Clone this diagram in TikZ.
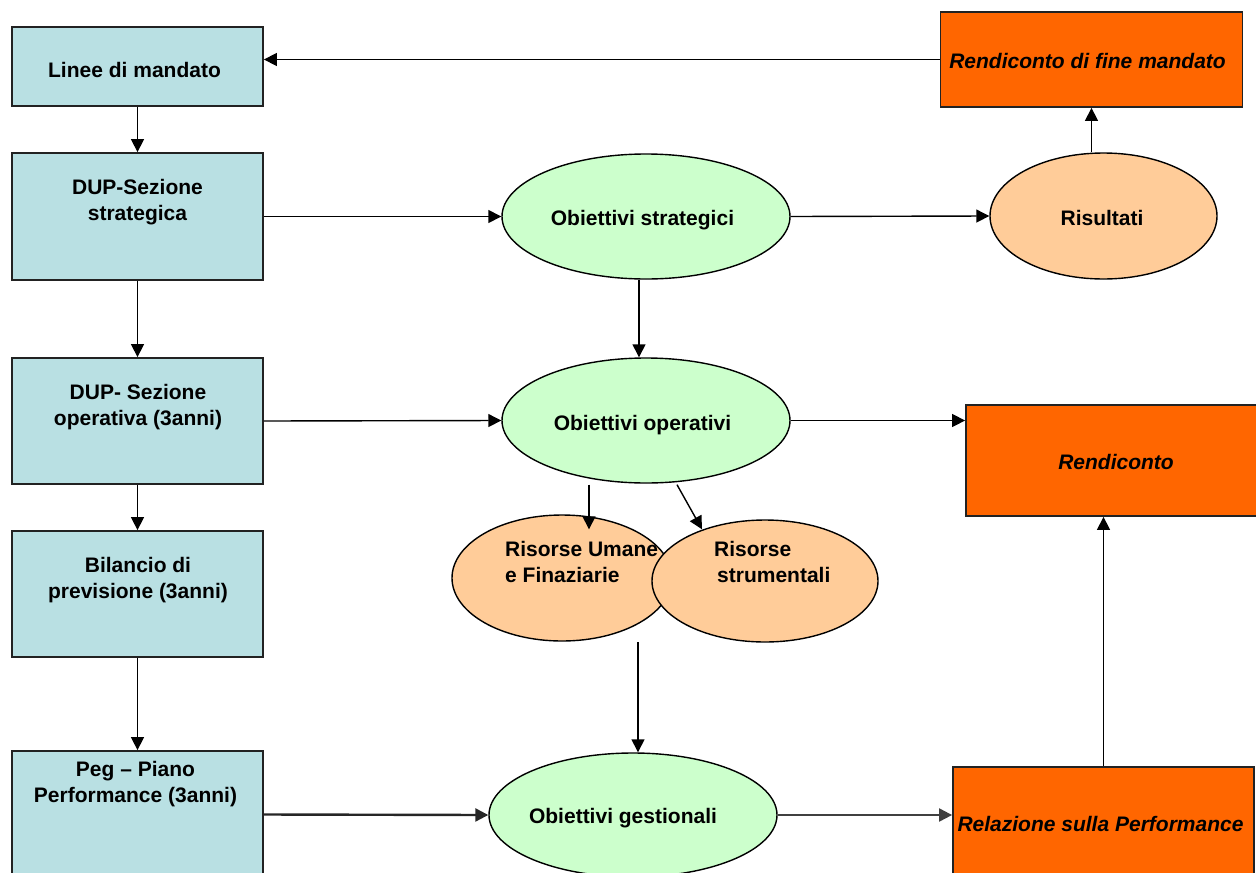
\documentclass[tikz,border=0pt]{standalone}
\usepackage{fontspec}
\setmainfont{Liberation Sans}
\usetikzlibrary{shapes.geometric,arrows.meta,calc}
\definecolor{lblue}{HTML}{B9E0E3}
\definecolor{lgreen}{HTML}{CCFFCC}
\definecolor{peach}{HTML}{FFCC99}
\definecolor{orng}{HTML}{FF6600}
\definecolor{edge}{HTML}{222222}
\tikzset{
  lbox/.style={draw=edge, line width=1.8pt, fill=lblue, rectangle, inner sep=0pt},
  obox/.style={draw=edge, line width=1.8pt, fill=orng, rectangle, inner sep=0pt},
  gell/.style={draw=black, line width=1.4pt, fill=lgreen, ellipse, inner sep=0pt},
  pell/.style={draw=black, line width=1.4pt, fill=peach, ellipse, inner sep=0pt},
  txt/.style={inner sep=0pt, align=center, font=\fontsize{21}{26}\selectfont\bfseries},
  itxt/.style={inner sep=0pt, align=center, font=\fontsize{21}{26}\selectfont\bfseries\itshape},
  arr/.style={draw=black, line width=1.4pt, -{Triangle[length=13pt,width=13pt]}},
}
\begin{document}
\begin{tikzpicture}[x=1pt,y=-1pt]
\useasboundingbox (0,0) rectangle (1256,873);
\clip (0,0) rectangle (1256,873);
% left column boxes
\node[lbox, minimum width=251pt, minimum height=79pt]  (lm)  at (137.5,66.5) {};
\node[lbox, minimum width=251pt, minimum height=127pt] (ss)  at (137.5,216.5) {};
\node[lbox, minimum width=251pt, minimum height=126pt] (so)  at (137.5,421) {};
\node[lbox, minimum width=251pt, minimum height=126pt] (bp)  at (137.5,594) {};
\node[lbox, minimum width=251pt, minimum height=127pt] (peg) at (137.5,814.5) {};
% right column boxes
\node[obox, minimum width=302pt, minimum height=95pt]  (rfm)  at (1091.5,59.5) {};
\node[obox, minimum width=296pt, minimum height=111pt] (rend) at (1114,460.5) {};
\node[obox, minimum width=301pt, minimum height=120pt] (rel)  at (1103.5,827) {};
% ellipses
\node[gell, minimum width=288pt, minimum height=125pt] (os)  at (646,216.5) {};
\node[gell, minimum width=288pt, minimum height=125pt] (oo)  at (646,420.5) {};
\node[gell, minimum width=288pt, minimum height=124pt] (og)  at (633,815) {};
\node[pell, minimum width=227pt, minimum height=126pt] (res) at (1103.5,216) {};
\node[pell, minimum width=220pt, minimum height=126pt] (ru)  at (562,578) {};
\node[pell, minimum width=226pt, minimum height=122pt] (rs)  at (765,581) {};
% texts
\node[txt, anchor=base] at (134.5,77) {Linee di mandato};
\node[txt] at (137.5,202.5) {DUP-Sezione\\strategica};
\node[txt] at (138,407.5) {DUP- Sezione\\operativa (3anni)};
\node[txt] at (138,580.5) {Bilancio di\\previsione (3anni)};
\node[txt] at (135.5,784.5) {Peg -- Piano\\Performance (3anni)};
\node[itxt, anchor=base] at (1087.5,68) {Rendiconto di fine mandato};
\node[itxt, anchor=base] at (1116,469) {Rendiconto};
\node[itxt, anchor=base] at (1100.5,831) {Relazione sulla Performance};
\node[txt, anchor=base] at (642.5,225) {Obiettivi strategici};
\node[txt, anchor=base] at (642.5,430) {Obiettivi operativi};
\node[txt, anchor=base] at (623,823) {Obiettivi gestionali};
\node[txt, anchor=base] at (1102,225) {Risultati};
\node[txt, align=left, anchor=west] at (505,562.4) {Risorse Umane\\e Finaziarie};
\node[txt, align=left, anchor=west] at (714,562.4) {Risorse\\\hspace*{3pt}strumentali};
% connectors
\draw[arr] (rfm.west) -- (rfm.west -| lm.east);
\draw[arr] (lm.south) -- (ss.north);
\draw[arr] (ss.south) -- (so.north);
\draw[arr] (so.south) -- (bp.north);
\draw[arr] (bp.south) -- (peg.north);
\draw[arr] (ss.east) -- (os.west);
\draw[arr] (os.east) -- (res.west);
\draw[arr] (res.north -| rfm.south) -- (rfm.south);
\draw[arr] ([xshift=-7pt]os.south) -- ([xshift=-7pt]oo.north);
\draw[arr] (so.east) -- (oo.west);
\draw[arr] (oo.east) -- (oo.east -| rend.west);
\draw[arr] ([xshift=-57pt,yshift=-1pt]oo.south) -- ([xshift=27pt,yshift=-15pt]ru.north);
\draw[arr] ([xshift=31pt,yshift=-1pt]oo.south) -- ([xshift=-63pt,yshift=-10pt]rs.north);
\coordinate (rr) at (638,642);
\draw[arr] (rr) -- (rr |- og.north);
\draw[arr, line width=2.4pt, draw=black!85] (peg.east) -- (og.west);
\draw[arr, line width=2pt, draw=black!75] (og.east) -- (og.east -| rel.west);
\draw[arr] (rel.north) -- (rel.north |- rend.south);
\end{tikzpicture}
\end{document}
